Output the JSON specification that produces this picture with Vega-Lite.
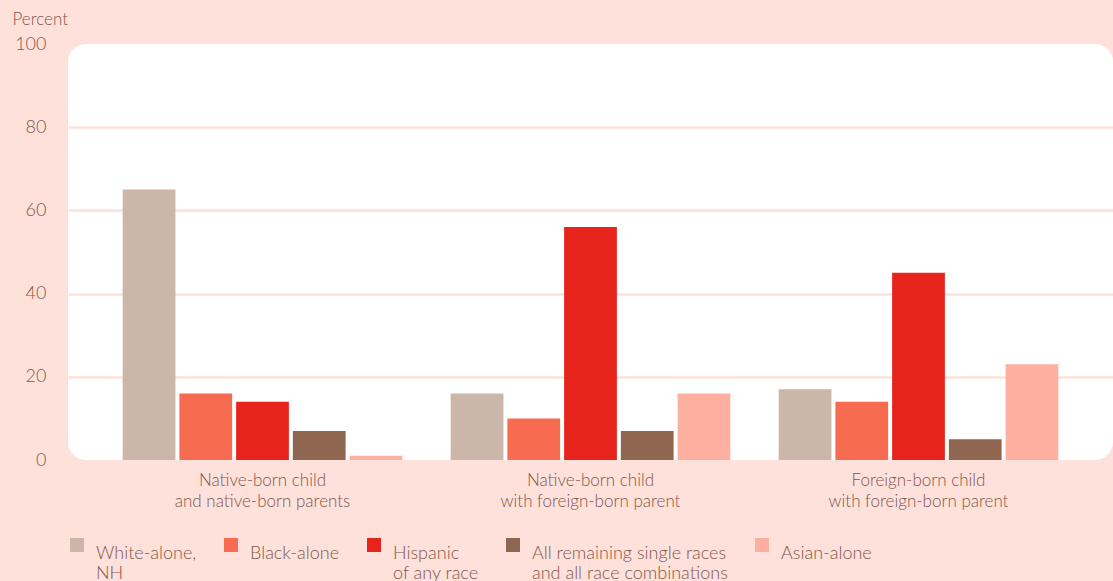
{
  "$schema": "https://vega.github.io/schema/vega-lite/v6.json",
  "autosize": {"type": "none"},
  "padding": {"left": 68, "top": 44, "right": 0, "bottom": 121},
  "width": 1045,
  "height": 416,
  "background": "#fee1db",
  "config": {
    "view": {"fill": "#ffffff", "stroke": null, "cornerRadius": 18},
    "font": "Lato",
    "axis": {"labelColor": "#84564a", "titleColor": "#84564a", "labelFontWeight": 300, "titleFontWeight": 300},
    "legend": {"labelColor": "#84564a", "labelFontWeight": 300}
  },
  "data": {
    "values": [
      {"group": "Native-born child / and native-born parents", "race": "White-alone, / NH", "percent": 65},
      {"group": "Native-born child / and native-born parents", "race": "Black-alone", "percent": 16},
      {"group": "Native-born child / and native-born parents", "race": "Hispanic / of any race", "percent": 14},
      {"group": "Native-born child / and native-born parents", "race": "All remaining single races / and all race combinations", "percent": 7},
      {"group": "Native-born child / and native-born parents", "race": "Asian-alone", "percent": 1},
      {"group": "Native-born child / with foreign-born parent", "race": "White-alone, / NH", "percent": 16},
      {"group": "Native-born child / with foreign-born parent", "race": "Black-alone", "percent": 10},
      {"group": "Native-born child / with foreign-born parent", "race": "Hispanic / of any race", "percent": 56},
      {"group": "Native-born child / with foreign-born parent", "race": "All remaining single races / and all race combinations", "percent": 7},
      {"group": "Native-born child / with foreign-born parent", "race": "Asian-alone", "percent": 16},
      {"group": "Foreign-born child / with foreign-born parent", "race": "White-alone, / NH", "percent": 17},
      {"group": "Foreign-born child / with foreign-born parent", "race": "Black-alone", "percent": 14},
      {"group": "Foreign-born child / with foreign-born parent", "race": "Hispanic / of any race", "percent": 45},
      {"group": "Foreign-born child / with foreign-born parent", "race": "All remaining single races / and all race combinations", "percent": 5},
      {"group": "Foreign-born child / with foreign-born parent", "race": "Asian-alone", "percent": 23}
    ]
  },
  "mark": {"type": "bar"},
  "encoding": {
    "x": {
      "field": "group",
      "type": "nominal",
      "sort": null,
      "scale": {"paddingInner": 0.13, "paddingOuter": 0.158},
      "axis": {
        "title": null,
        "labelAngle": 0,
        "domain": false,
        "ticks": false,
        "labelPadding": 12,
        "labelFontSize": 17,
        "labelLineHeight": 21,
        "labelExpr": "split(datum.label, ' / ')"
      }
    },
    "xOffset": {
      "field": "race",
      "type": "nominal",
      "sort": ["White-alone, / NH", "Black-alone", "Hispanic / of any race", "All remaining single races / and all race combinations", "Asian-alone"],
      "scale": {"paddingInner": 0.07, "paddingOuter": 0.05}
    },
    "y": {
      "field": "percent",
      "type": "quantitative",
      "scale": {"domain": [0, 100], "nice": false},
      "axis": {
        "values": [0, 20, 40, 60, 80, 100],
        "title": "Percent",
        "titleAngle": 0,
        "titleAlign": "left",
        "titleBaseline": "alphabetic",
        "titleX": -56,
        "titleY": -20,
        "titleFontSize": 17,
        "labelFontSize": 18,
        "labelPadding": 22,
        "domain": false,
        "ticks": false,
        "gridColor": {"condition": {"test": "datum.value === 0 || datum.value === 100", "value": "transparent"}, "value": "#fee1db"},
        "gridWidth": 2.5
      }
    },
    "color": {
      "field": "race",
      "type": "nominal",
      "sort": ["White-alone, / NH", "Black-alone", "Hispanic / of any race", "All remaining single races / and all race combinations", "Asian-alone"],
      "scale": {"range": ["#ccb5a9", "#f76b50", "#e6241b", "#8f6750", "#feb0a0"]},
      "legend": {
        "title": null,
        "orient": "none",
        "direction": "horizontal",
        "legendX": 0,
        "legendY": 492,
        "symbolType": "square",
        "symbolSize": 196,
        "symbolStrokeWidth": 0,
        "labelFontSize": 18,
        "labelOffset": 10,
        "labelBaseline": "top",
        "labelLimit": 400,
        "columnPadding": 25,
        "labelExpr": "indexof(datum.label, ' / ') >= 0 ? split(datum.label, ' / ') : [datum.label, ' ']"
      }
    }
  }
}
